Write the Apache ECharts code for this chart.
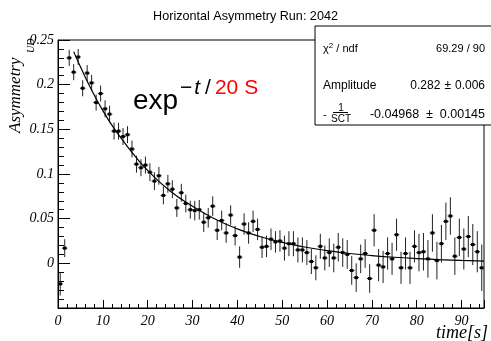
<!DOCTYPE html>
<html>
<head>
<meta charset="utf-8">
<script src="https://cdn.jsdelivr.net/npm/echarts@6/dist/echarts.min.js"></script>
<style>
  html, body { margin: 0; padding: 0; background: #fff; }
  #chart { width: 491px; height: 341px; }
</style>
</head>
<body>
<div id="chart"></div>
<script>
// bin centres [s]
const times = [
  0.5, 1.5, 2.5, 3.5, 4.5, 5.5, 6.5, 7.5, 8.5, 9.5,
  10.5, 11.5, 12.5, 13.5, 14.5, 15.5, 16.5, 17.5, 18.5, 19.5,
  20.5, 21.5, 22.5, 23.5, 24.5, 25.5, 26.5, 27.5, 28.5, 29.5,
  30.5, 31.5, 32.5, 33.5, 34.5, 35.5, 36.5, 37.5, 38.5, 39.5,
  40.5, 41.5, 42.5, 43.5, 44.5, 45.5, 46.5, 47.5, 48.5, 49.5,
  50.5, 51.5, 52.5, 53.5, 54.5, 55.5, 56.5, 57.5, 58.5, 59.5,
  60.5, 61.5, 62.5, 63.5, 64.5, 65.5, 66.5, 67.5, 68.5, 69.5,
  70.5, 71.5, 72.5, 73.5, 74.5, 75.5, 76.5, 77.5, 78.5, 79.5,
  80.5, 81.5, 82.5, 83.5, 84.5, 85.5, 86.5, 87.5, 88.5, 89.5,
  90.5, 91.5, 92.5, 93.5, 94.5
]
// measured asymmetry per bin
const asymmetry = [
  -0.023, 0.017, 0.230, 0.214, 0.231, 0.196, 0.213, 0.202, 0.180, 0.190,
  0.173, 0.167, 0.148, 0.148, 0.142, 0.144, 0.128, 0.111, 0.107, 0.110,
  0.102, 0.092, 0.098, 0.076, 0.089, 0.083, 0.062, 0.079, 0.067, 0.060,
  0.059, 0.060, 0.046, 0.051, 0.064, 0.037, 0.048, 0.034, 0.054, 0.031,
  0.007, 0.044, 0.034, 0.047, 0.038, 0.018, 0.019, 0.027, 0.024, 0.025,
  0.017, 0.022, 0.022, 0.015, 0.015, 0.012, 0.002, -0.005, 0.019, 0.006,
  0.012, 0.006, 0.018, 0.012, 0.010, -0.008, -0.016, 0.005, 0.011, -0.017,
  0.037, -0.002, -0.004, 0.011, 0.005, 0.032, -0.005, 0.011, -0.005, 0.019,
  0.012, 0.013, 0.005, 0.034, 0.003, 0.022, 0.047, 0.053, 0.008, 0.029,
  0.016, 0.030, 0.021, 0.013, -0.005
]
// statistical error per bin
const errors = [
  0.013, 0.010, 0.009, 0.009, 0.009, 0.009, 0.009, 0.009, 0.009, 0.009,
  0.0095, 0.0095, 0.0095, 0.0095, 0.0095, 0.0095, 0.0095, 0.0095, 0.0095, 0.0095,
  0.010, 0.010, 0.010, 0.010, 0.010, 0.010, 0.010, 0.010, 0.010, 0.010,
  0.011, 0.011, 0.011, 0.011, 0.011, 0.011, 0.011, 0.011, 0.011, 0.011,
  0.012, 0.012, 0.012, 0.012, 0.012, 0.012, 0.012, 0.012, 0.012, 0.012,
  0.014, 0.014, 0.014, 0.014, 0.014, 0.014, 0.014, 0.014, 0.014, 0.014,
  0.016, 0.016, 0.016, 0.016, 0.016, 0.016, 0.016, 0.016, 0.016, 0.016,
  0.018, 0.018, 0.018, 0.018, 0.018, 0.018, 0.018, 0.018, 0.018, 0.018,
  0.021, 0.021, 0.021, 0.021, 0.021, 0.021, 0.021, 0.021, 0.021, 0.021,
  0.023, 0.023, 0.023, 0.023, 0.026
]
// fitted curve
const fitTimes = [3.5, 5, 7.5, 10, 12.5, 15, 17.5, 20, 25, 30, 35, 40, 45, 50, 55, 60, 65, 70, 75, 80, 85, 90, 95]
const fitValues = [0.237, 0.220, 0.194, 0.171, 0.151, 0.134, 0.118, 0.104, 0.081, 0.064, 0.0497, 0.0386, 0.030,
  0.0235, 0.0183, 0.0143, 0.011, 0.0087, 0.0068, 0.0053, 0.0041, 0.0032, 0.0025]

const yTicks = [0, 0.05, 0.1, 0.15, 0.2, 0.25]

const SANS = 'Liberation Sans'
const SERIF = 'Liberation Serif'

const chart = echarts.init(document.getElementById('chart'))

const points = times.map((t, i) => [t, asymmetry[i], errors[i]])
const fitLine = fitTimes.map((t, i) => [t, fitValues[i]])

const option = {
  animation: false,
  backgroundColor: '#fff',
  title: {
    text: 'Horizontal Asymmetry Run: 2042',
    left: 'center',
    top: 5,
    textStyle: { fontFamily: SANS, fontSize: 12.6, fontWeight: 'normal', color: '#000' },
  },
  grid: {
    left: 58, right: 7, top: 40, bottom: 33,
    show: true, borderColor: '#000', borderWidth: 1, backgroundColor: 'transparent',
  },
  xAxis: {
    type: 'value', min: 0, max: 95, interval: 10,
    axisLine: { show: true, onZero: false, lineStyle: { color: '#000', width: 1 } },
    axisTick: { inside: true, length: 8, lineStyle: { color: '#000' } },
    minorTick: { show: true, splitNumber: 5, length: 4, lineStyle: { color: '#000' } },
    splitLine: { show: false },
    axisLabel: {
      showMaxLabel: false, margin: 6,
      fontFamily: SERIF, fontStyle: 'italic', fontSize: 14, color: '#000',
    },
  },
  yAxis: {
    type: 'value', min: -0.05, max: 0.25, interval: 0.05,
    axisLine: { show: true, lineStyle: { color: '#000', width: 1 } },
    axisTick: { inside: true, length: 12, lineStyle: { color: '#000' } },
    minorTick: { show: true, splitNumber: 5, length: 6, lineStyle: { color: '#000' } },
    splitLine: { show: false },
    axisLabel: {
      margin: 4,
      fontFamily: SERIF, fontStyle: 'italic', fontSize: 14, color: '#000',
      formatter: v => (yTicks.some(t => Math.abs(t - v) < 1e-9) ? String(+v.toFixed(2)) : ''),
    },
  },
  series: [
    {
      type: 'custom',
      name: 'data',
      clip: true,
      data: points,
      encode: { x: 0, y: 1 },
      renderItem: function (params, api) {
        const t = api.value(0)
        const y = api.value(1)
        const e = api.value(2)
        const hi = api.coord([t, y + e])
        const lo = api.coord([t, y - e])
        const l = api.coord([t - 0.5, y])
        const r = api.coord([t + 0.5, y])
        const style = { stroke: '#222', lineWidth: 1 }
        return {
          type: 'group',
          children: [
            { type: 'line', shape: { x1: hi[0], y1: hi[1], x2: lo[0], y2: lo[1] }, style },
            { type: 'line', shape: { x1: l[0] - 0.5, y1: l[1], x2: r[0] + 0.5, y2: r[1] }, style },
            { type: 'rect', shape: { x: l[0] + 0.5, y: l[1] - 1.5, width: r[0] - l[0] - 1, height: 3 }, style: { fill: '#000' } },
          ],
        }
      },
      z: 3,
    },
    {
      type: 'line',
      name: 'fit',
      data: fitLine,
      smooth: true,
      showSymbol: false,
      symbol: 'none',
      lineStyle: { color: '#000', width: 1.2 },
      clip: true,
      z: 4,
    },
  ],
  graphic: [
    // y axis title
    {
      type: 'text', x: 16, y: 133, rotation: Math.PI / 2,
      style: { text: 'Asymmetry', fontFamily: SERIF, fontStyle: 'italic', fontSize: 17, fill: '#000', align: 'left', verticalAlign: 'middle' },
    },
    {
      type: 'text', x: 31, y: 53, rotation: Math.PI / 2,
      style: { text: 'UD', fontFamily: SERIF, fontStyle: 'italic', fontSize: 10, fill: '#000', align: 'left', verticalAlign: 'middle' },
    },
    // x axis title
    {
      type: 'text', x: 488, y: 333,
      style: { text: 'time[s]', fontFamily: SERIF, fontStyle: 'italic', fontSize: 18, fill: '#000', align: 'right', verticalAlign: 'middle' },
    },
    // formula annotation
    {
      type: 'text', x: 133, y: 101,
      style: { text: 'exp', fontFamily: SANS, fontSize: 28, fill: '#000', align: 'left', verticalAlign: 'middle' },
    },
    {
      type: 'text', x: 180, y: 88,
      style: {
        text: '{b|−}{c|t}{d|/}{r|20 S}',
        align: 'left', verticalAlign: 'middle',
        rich: {
          b: { fontFamily: SANS, fontSize: 21, fill: '#000', padding: [0, 2, 0, 0] },
          c: { fontFamily: SANS, fontStyle: 'italic', fontSize: 21, fill: '#000', padding: [0, 5, 0, 0] },
          d: { fontFamily: SANS, fontSize: 21, fill: '#000' },
          r: { fontFamily: SANS, fontSize: 21, fill: '#ff0000', padding: [0, 0, 0, 4] },
        },
      },
    },
    // stats box
    {
      type: 'group', x: 315, y: 26, z: 10,
      children: [
        { type: 'rect', shape: { x: 0, y: 0, width: 178, height: 99 }, style: { fill: '#fff', stroke: '#000', lineWidth: 1 } },
        {
          type: 'text', x: 8, y: 23,
          style: {
            text: '{a|χ}{s|2}{a| / ndf}', align: 'left', verticalAlign: 'middle',
            rich: { a: { fontFamily: SANS, fontSize: 11, fill: '#000' }, s: { fontFamily: SANS, fontSize: 8, fill: '#000', verticalAlign: 'top', padding: [0, 0, 6, 0] } },
          },
        },
        { type: 'text', x: 170, y: 23, style: { text: '69.29 / 90', fontFamily: SANS, fontSize: 11, fill: '#000', align: 'right', verticalAlign: 'middle' } },
        { type: 'text', x: 8, y: 60, style: { text: 'Amplitude', fontFamily: SANS, fontSize: 12, fill: '#000', align: 'left', verticalAlign: 'middle' } },
        {
          type: 'text', x: 170, y: 60,
          style: {
            text: '{a|0.282}{p|±}{a|0.006}', align: 'right', verticalAlign: 'middle',
            rich: { a: { fontFamily: SANS, fontSize: 12, fill: '#000' }, p: { fontFamily: SANS, fontSize: 12, fill: '#000', padding: [0, 4, 0, 4] } },
          },
        },
        { type: 'text', x: 8, y: 89, style: { text: '-', fontFamily: SANS, fontSize: 11, fill: '#000', align: 'left', verticalAlign: 'middle' } },
        { type: 'text', x: 26, y: 82, style: { text: '1', fontFamily: SANS, fontSize: 10, fill: '#000', align: 'center', verticalAlign: 'middle' } },
        { type: 'line', shape: { x1: 18, y1: 86.5, x2: 33, y2: 86.5 }, style: { stroke: '#000', lineWidth: 1 } },
        { type: 'text', x: 26, y: 93, style: { text: 'SCT', fontFamily: SANS, fontSize: 10, fill: '#000', align: 'center', verticalAlign: 'middle' } },
        {
          type: 'text', x: 170, y: 89,
          style: {
            text: '{a|-0.04968}{p|±}{a|0.00145}', align: 'right', verticalAlign: 'middle',
            rich: { a: { fontFamily: SANS, fontSize: 12.5, fill: '#000' }, p: { fontFamily: SANS, fontSize: 12, fill: '#000', padding: [0, 7, 0, 7] } },
          },
        },
      ],
    },
  ],
}

option && chart.setOption(option)
</script>
</body>
</html>
